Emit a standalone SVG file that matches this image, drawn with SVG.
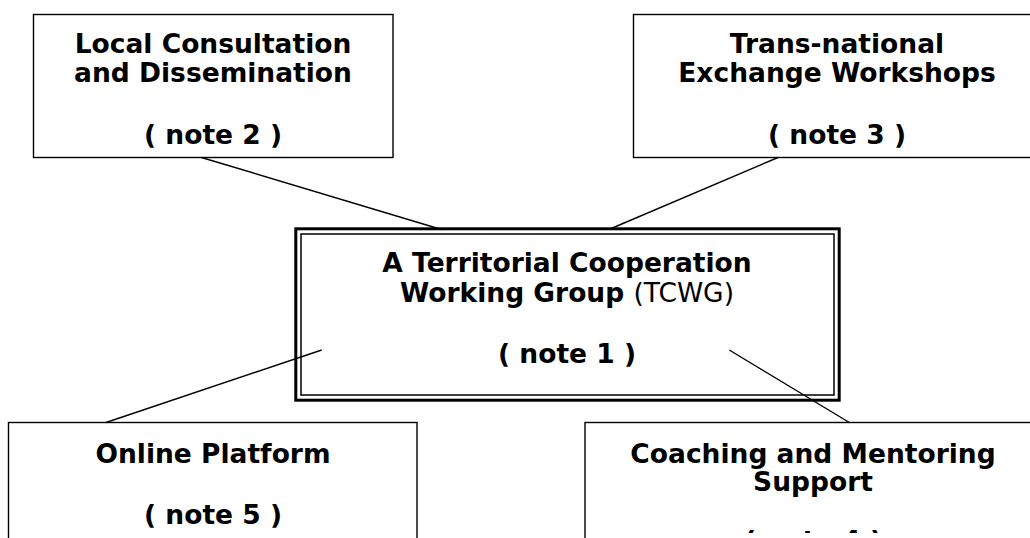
<svg xmlns="http://www.w3.org/2000/svg" width="1030" height="538" viewBox="0 0 1030 538">
<defs>
<clipPath id="pageclip"><rect x="0" y="0" width="1030" height="533"/></clipPath>
</defs>
<style>
.box{fill:#fff;stroke:#000;stroke-width:1.4}
.outer{fill:#fff;stroke:#000;stroke-width:3}
.inner{fill:none;stroke:#000;stroke-width:1.5}
.conn line{stroke:#000;stroke-width:1.4}
text{font-family:"DejaVu Sans",Verdana,sans-serif;font-weight:bold;font-size:26.5px;text-anchor:middle;fill:#000}
.reg{font-weight:normal}
</style>
<rect width="1030" height="538" fill="#fff"/>
<g id="n-local">
<rect class="box" x="33.5" y="14.5" width="359.5" height="143"/>
<text x="213" y="53.3">Local Consultation</text>
<text x="213" y="81.5">and Dissemination</text>
<text x="213" y="144">( note 2 )</text>
</g>
<g id="n-trans">
<rect class="box" x="633.5" y="14.5" width="420" height="143"/>
<text x="837" y="53.3">Trans-national</text>
<text x="837" y="81.5">Exchange Workshops</text>
<text x="837" y="144">( note 3 )</text>
</g>
<g id="n-tcwg">
<rect class="outer" x="295.8" y="228.8" width="543.4" height="171.4"/>
<rect class="inner" x="301" y="234" width="533" height="161"/>
<text x="567" y="271.5">A Territorial Cooperation</text>
<text x="567" y="301.5">Working Group <tspan class="reg">(TCWG)</tspan></text>
<text x="567" y="362.7">( note 1 )</text>
</g>
<g id="n-online">
<rect class="box" x="8.5" y="422.5" width="408.5" height="200"/>
<text x="213" y="462.7">Online Platform</text>
<text x="213" y="524">( note 5 )</text>
</g>
<g id="n-coaching">
<rect class="box" x="585" y="422.5" width="500" height="200"/>
<text x="813" y="463">Coaching and Mentoring</text>
<text x="813" y="491">Support</text>
<text x="813" y="550" clip-path="url(#pageclip)">( note 4 )</text>
</g>
<g id="connectors" class="conn">
<line x1="201.5" y1="157.5" x2="441.5" y2="229.5"/>
<line x1="778" y1="157.5" x2="610" y2="229"/>
<line x1="321.7" y1="350" x2="106" y2="422.5"/>
<line x1="729.3" y1="350" x2="849.3" y2="422.5"/>
</g>
</svg>
